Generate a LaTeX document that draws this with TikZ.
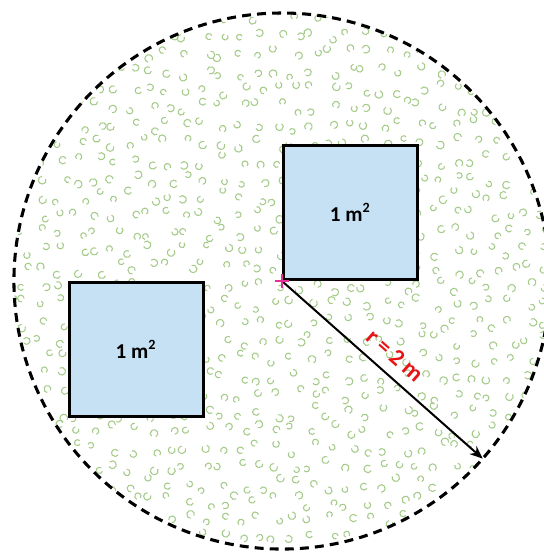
\documentclass[tikz,border=0pt]{standalone}
\usepackage{fontspec}
\setmainfont{Carlito}
\usetikzlibrary{arrows.meta}

\definecolor{sqfill}{RGB}{198,225,244}
\definecolor{gravel}{RGB}{165,203,138}
\definecolor{centre}{RGB}{226,48,150}
\definecolor{radlabel}{RGB}{230,20,20}

\newcommand*{\rad}{2}
\newcommand*{\gstep}{0.134}

\begin{document}
\begin{tikzpicture}
[
	x=2cm,y=2cm,
	sqbox/.style={draw,line width=1.3pt,fill=sqfill,inner sep=0pt,minimum size=2cm,font=\fontsize{9}{10}\selectfont\bfseries},
	pebble/.style={gravel,line width=0.45pt},
	boundary/.style={line width=1.3pt,dash pattern=on 3.8pt off 2.6pt}
]
	\useasboundingbox (-2.104,-2.022) rectangle (1.955,2.097);
	\pgfmathsetseed{4711}

	\coordinate (O) at (0,0);
	\coordinate (R) at (-41.5:\rad);

	% gravel
	\begin{scope}
		\clip (O) circle (\rad);
		\foreach \i in {0,...,30} {
			\foreach \j in {0,...,30} {
				\pgfmathsetmacro{\px}{-2.05+\i*\gstep+0.05*rand}
				\pgfmathsetmacro{\py}{-2.05+\j*\gstep+0.05*rand}
				\pgfmathsetmacro{\pa}{360*rnd}
				\pgfmathsetmacro{\pr}{0.021+0.008*rnd}
				\draw[pebble] (\px,\py) ++(\pa:\pr) arc[start angle=\pa,delta angle=290,radius=\pr];
			}
		}
	\end{scope}

	% boundary
	\draw[boundary] (O) circle (\rad);

	% squares
	\node[sqbox,anchor=south west] (sqA) at (O) {1 m\textsuperscript{2}};
	\node[sqbox,anchor=north west] (sqB) at (-1.6,0) {1 m\textsuperscript{2}};

	% radius
	\draw[-{Stealth[length=5.5pt,width=4.5pt]},line width=0.85pt] (O) -- (R)
		node[midway,above=1pt,sloped,text=radlabel,font=\fontsize{10}{12}\selectfont\bfseries] (rlab) {r = 2 m};

	% centre mark
	\draw[centre,line width=1pt] ([xshift=-3pt]O) -- ([xshift=3pt]O);
	\draw[centre,line width=1pt] ([yshift=-3pt]O) -- ([yshift=3pt]O);

\end{tikzpicture}
\end{document}
